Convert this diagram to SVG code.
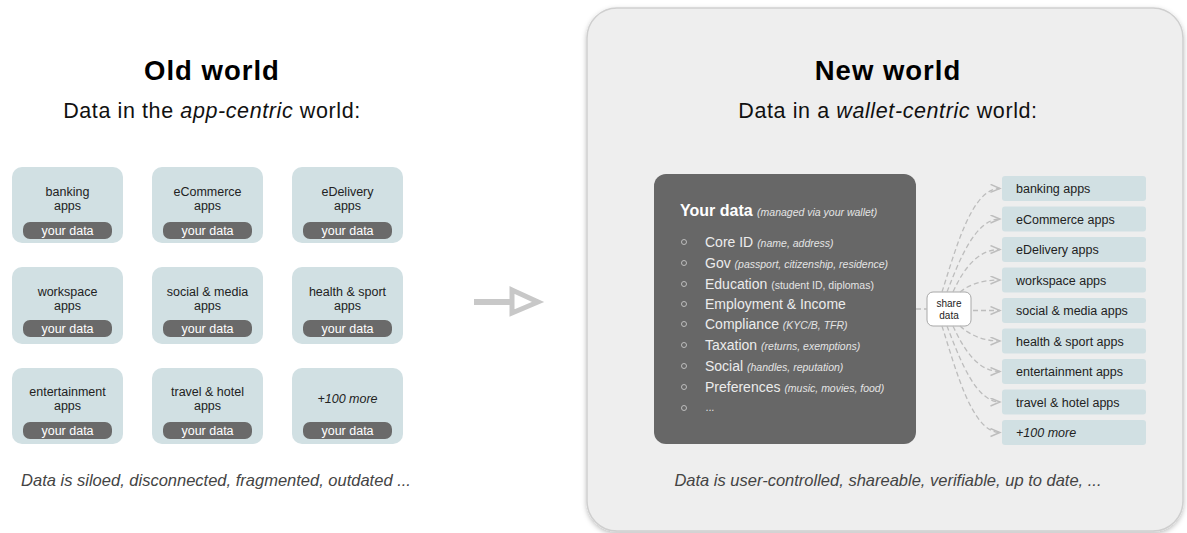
<svg xmlns="http://www.w3.org/2000/svg" width="1187" height="533" viewBox="0 0 1187 533">
<style>
text{font-family:"Liberation Sans",Arial,sans-serif}
.title{font-size:27.5px;font-weight:bold;fill:#000;text-anchor:middle;letter-spacing:1px}
.sub{font-size:21.5px;fill:#111;text-anchor:middle;letter-spacing:0.6px}
.app{fill:#d1e0e3}
.lbl{font-size:12.5px;fill:#222;text-anchor:middle}
.pill{fill:#6a6a6a}
.pt{font-size:12.5px;fill:#fff;text-anchor:middle}
.foot{font-size:16.5px;font-style:italic;fill:#444;text-anchor:middle}
.li{font-size:14px;fill:#ececec}
.sm{font-size:10.5px;font-style:italic;fill:#e4e4e4}
.bul{fill:none;stroke:#bdbdbd;stroke-width:1}
.rt{font-size:12.5px;fill:#222}
.con{fill:none;stroke:#bdbdbd;stroke-width:1.3;stroke-dasharray:5 3}
</style>
<defs>
<marker id="chev" markerUnits="userSpaceOnUse" markerWidth="12" markerHeight="10" refX="10" refY="4.5" orient="auto">
<path d="M0.5,0.5 L10,4.5 L0.5,8.5" fill="none" stroke="#bdbdbd" stroke-width="1.4"/>
</marker>
<filter id="sh" x="-5%" y="-5%" width="110%" height="110%">
<feDropShadow dx="0" dy="2" stdDeviation="2.5" flood-color="#000" flood-opacity="0.25"/>
</filter>
</defs>
<rect width="1187" height="533" fill="#fff"/>

<g id="old-world">
<text class="title" x="212" y="80">Old world</text>
<text class="sub" x="212" y="118">Data in the <tspan font-style="italic">app-centric</tspan> world:</text>
</g>

<g id="app-banking"><rect class="app" x="12" y="167" width="111" height="76" rx="10"/><text class="lbl" x="67.5" y="196">banking</text><text class="lbl" x="67.5" y="210">apps</text><rect class="pill" x="23" y="222" width="89" height="17" rx="7"/><text class="pt" x="67.5" y="235">your data</text></g>
<g id="app-ecommerce"><rect class="app" x="152" y="167" width="111" height="76" rx="10"/><text class="lbl" x="207.5" y="196">eCommerce</text><text class="lbl" x="207.5" y="210">apps</text><rect class="pill" x="163" y="222" width="89" height="17" rx="7"/><text class="pt" x="207.5" y="235">your data</text></g>
<g id="app-edelivery"><rect class="app" x="292" y="167" width="111" height="76" rx="10"/><text class="lbl" x="347.5" y="196">eDelivery</text><text class="lbl" x="347.5" y="210">apps</text><rect class="pill" x="303" y="222" width="89" height="17" rx="7"/><text class="pt" x="347.5" y="235">your data</text></g>

<g id="app-workspace"><rect class="app" x="12" y="267" width="111" height="77" rx="10"/><text class="lbl" x="67.5" y="296">workspace</text><text class="lbl" x="67.5" y="310">apps</text><rect class="pill" x="23" y="320" width="89" height="17" rx="7"/><text class="pt" x="67.5" y="333">your data</text></g>
<g id="app-social"><rect class="app" x="152" y="267" width="111" height="77" rx="10"/><text class="lbl" x="207.5" y="296">social &amp; media</text><text class="lbl" x="207.5" y="310">apps</text><rect class="pill" x="163" y="320" width="89" height="17" rx="7"/><text class="pt" x="207.5" y="333">your data</text></g>
<g id="app-health"><rect class="app" x="292" y="267" width="111" height="77" rx="10"/><text class="lbl" x="347.5" y="296">health &amp; sport</text><text class="lbl" x="347.5" y="310">apps</text><rect class="pill" x="303" y="320" width="89" height="17" rx="7"/><text class="pt" x="347.5" y="333">your data</text></g>

<g id="app-entertainment"><rect class="app" x="12" y="368" width="111" height="76" rx="10"/><text class="lbl" x="67.5" y="396">entertainment</text><text class="lbl" x="67.5" y="410">apps</text><rect class="pill" x="23" y="422" width="89" height="17" rx="7"/><text class="pt" x="67.5" y="435">your data</text></g>
<g id="app-travel"><rect class="app" x="152" y="368" width="111" height="76" rx="10"/><text class="lbl" x="207.5" y="396">travel &amp; hotel</text><text class="lbl" x="207.5" y="410">apps</text><rect class="pill" x="163" y="422" width="89" height="17" rx="7"/><text class="pt" x="207.5" y="435">your data</text></g>
<g id="app-more"><rect class="app" x="292" y="368" width="111" height="76" rx="10"/><text class="lbl" x="347.5" y="403" font-style="italic">+100 more</text><rect class="pill" x="303" y="422" width="89" height="17" rx="7"/><text class="pt" x="347.5" y="435">your data</text></g>

<g id="old-footer"><text class="foot" x="216" y="486">Data is siloed, disconnected, fragmented, outdated ...</text></g>

<g id="transition-arrow">
<line x1="474" y1="302" x2="512" y2="302" stroke="#c8c8c8" stroke-width="6"/>
<polygon points="512,290 538,302 512,313" fill="none" stroke="#c8c8c8" stroke-width="5" stroke-linejoin="miter"/>
</g>

<g id="new-world">
<rect x="587" y="8" width="596" height="523" rx="30" fill="#eeeeee" stroke="#cfcfcf" stroke-width="1.5" filter="url(#sh)"/>
<text class="title" x="888" y="80">New world</text>
<text class="sub" x="888" y="118">Data in a <tspan font-style="italic">wallet-centric</tspan> world:</text>
</g>

<g id="your-data">
<rect x="654" y="174" width="262" height="270" rx="12" fill="#676767"/>
<text x="680" y="216" font-size="16" font-weight="bold" fill="#fff">Your data <tspan class="sm" font-weight="normal">(managed via your wallet)</tspan></text>
<circle class="bul" cx="684" cy="242" r="2.5"/><text class="li" x="705" y="247">Core ID <tspan class="sm">(name, address)</tspan></text>
<circle class="bul" cx="684" cy="263" r="2.5"/><text class="li" x="705" y="268">Gov <tspan class="sm">(passport, citizenship, residence)</tspan></text>
<circle class="bul" cx="684" cy="284" r="2.5"/><text class="li" x="705" y="289">Education <tspan font-size="10.5" fill="#e4e4e4">(student ID, diplomas)</tspan></text>
<circle class="bul" cx="684" cy="304" r="2.5"/><text class="li" x="705" y="309">Employment &amp; Income</text>
<circle class="bul" cx="684" cy="324" r="2.5"/><text class="li" x="705" y="329">Compliance <tspan class="sm" font-size="9">(KYC/B, TFR)</tspan></text>
<circle class="bul" cx="684" cy="345" r="2.5"/><text class="li" x="705" y="350">Taxation <tspan class="sm">(returns, exemptions)</tspan></text>
<circle class="bul" cx="684" cy="366" r="2.5"/><text class="li" x="705" y="371">Social <tspan class="sm">(handles, reputation)</tspan></text>
<circle class="bul" cx="684" cy="387" r="2.5"/><text class="li" x="705" y="392">Preferences <tspan class="sm">(music, movies, food)</tspan></text>
<circle class="bul" cx="684" cy="408" r="2.5"/><text class="sm" x="706" y="411" font-style="normal">...</text>
</g>

<g id="share-data">
<rect x="927" y="292" width="44" height="34" rx="6" fill="#fff" stroke="#a8a8a8" stroke-width="1"/>
<text x="949" y="307" font-size="10" fill="#222" text-anchor="middle">share</text>
<text x="949" y="319" font-size="10" fill="#222" text-anchor="middle">data</text>
</g>

<g id="targets">
<rect class="app" x="1002" y="176" width="144" height="25" rx="3"/><text class="rt" x="1016" y="193">banking apps</text>
<rect class="app" x="1002" y="206.5" width="144" height="25" rx="3"/><text class="rt" x="1016" y="223.5">eCommerce apps</text>
<rect class="app" x="1002" y="237" width="144" height="25" rx="3"/><text class="rt" x="1016" y="254">eDelivery apps</text>
<rect class="app" x="1002" y="267.5" width="144" height="25" rx="3"/><text class="rt" x="1016" y="284.5">workspace apps</text>
<rect class="app" x="1002" y="298" width="144" height="25" rx="3"/><text class="rt" x="1016" y="315">social &amp; media apps</text>
<rect class="app" x="1002" y="328.5" width="144" height="25" rx="3"/><text class="rt" x="1016" y="345.5">health &amp; sport apps</text>
<rect class="app" x="1002" y="359" width="144" height="25" rx="3"/><text class="rt" x="1016" y="376">entertainment apps</text>
<rect class="app" x="1002" y="389.5" width="144" height="25" rx="3"/><text class="rt" x="1016" y="406.5">travel &amp; hotel apps</text>
<rect class="app" x="1002" y="420" width="144" height="25" rx="3"/><text class="rt" x="1016" y="437" font-style="italic">+100 more</text>
</g>

<g id="connectors">
<line class="con" x1="916" y1="309" x2="927" y2="309"/>
<path class="con" marker-end="url(#chev)" d="M942,292 C956,248 972,188 1000,188.5"/>
<path class="con" marker-end="url(#chev)" d="M947,292 C960,258 976,219 1000,219"/>
<path class="con" marker-end="url(#chev)" d="M953,292 C964,268 978,249.5 1000,249.5"/>
<path class="con" marker-end="url(#chev)" d="M960,292 C970,284 983,280 1000,280"/>
<path class="con" marker-end="url(#chev)" d="M973,310.5 L1000,310.5"/>
<path class="con" marker-end="url(#chev)" d="M960,326 C970,335 983,341 1000,341"/>
<path class="con" marker-end="url(#chev)" d="M953,326 C964,350 978,371.5 1000,371.5"/>
<path class="con" marker-end="url(#chev)" d="M947,326 C960,360 976,402 1000,402"/>
<path class="con" marker-end="url(#chev)" d="M942,326 C956,370 972,432.5 1000,432.5"/>
</g>

<g id="new-footer"><text class="foot" x="888" y="486">Data is user-controlled, shareable, verifiable, up to date, ...</text></g>
</svg>
